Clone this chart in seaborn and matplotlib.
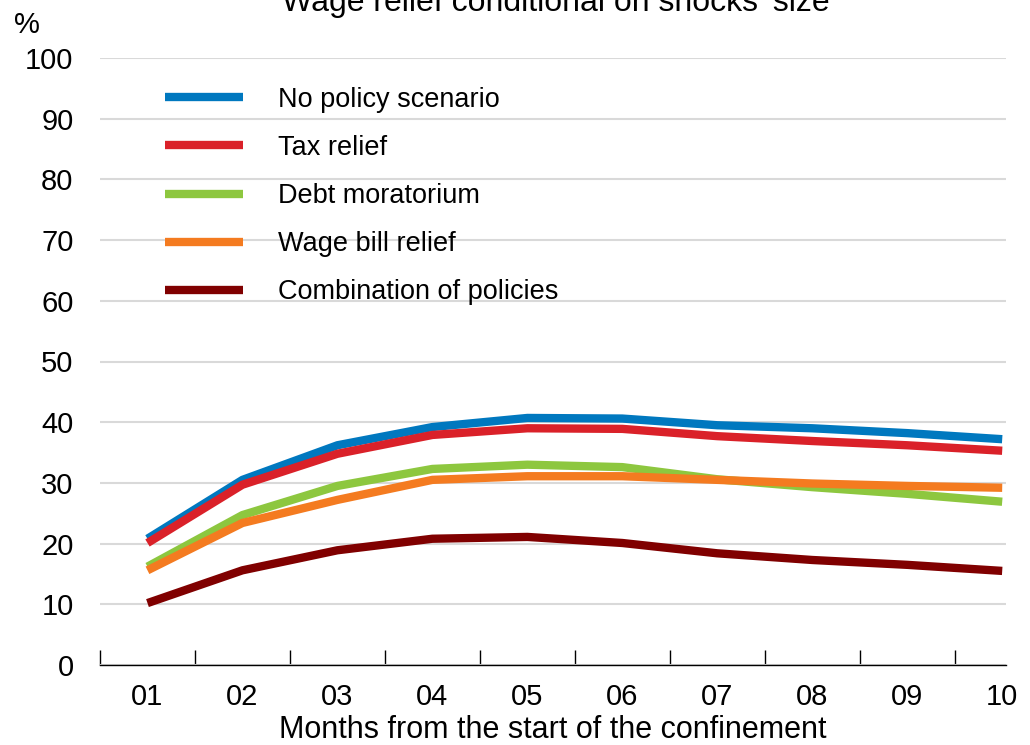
import pandas as pd
import seaborn as sns
import matplotlib.pyplot as plt
from matplotlib.ticker import FixedLocator

# data
months = ["01", "02", "03", "04", "05", "06", "07", "08", "09", "10"]
no_policy = [20.8, 30.5, 36.2, 39.2, 40.7, 40.6, 39.5, 39.0, 38.2, 37.2]
tax_relief = [20.1, 29.7, 34.8, 37.9, 39.0, 38.9, 37.7, 36.9, 36.2, 35.3]
debt_moratorium = [16.2, 24.7, 29.5, 32.3, 33.0, 32.6, 30.6, 29.3, 28.2, 26.9]
wage_bill_relief = [15.6, 23.4, 27.2, 30.5, 31.1, 31.1, 30.5, 29.9, 29.5, 29.2]
combination = [10.2, 15.6, 18.9, 20.8, 21.1, 20.1, 18.4, 17.3, 16.5, 15.5]

series_names = ["No policy scenario", "Tax relief", "Debt moratorium",
                "Wage bill relief", "Combination of policies"]
series_values = [no_policy, tax_relief, debt_moratorium, wage_bill_relief, combination]
colors = ["#0078BF", "#DA2129", "#8DC73F", "#F47B20", "#800000"]

df = pd.DataFrame({
    "Month": months * len(series_names),
    "Value": [v for vals in series_values for v in vals],
    "Series": [n for n in series_names for _ in months],
})

sns.set_theme(style="white")
plt.rcParams["font.family"] = ["Liberation Sans", "DejaVu Sans"]

fig = plt.figure(figsize=(10.30, 7.45), dpi=100)
ax = fig.add_axes([100 / 1030, 1 - 665 / 745, 906 / 1030, (665 - 58) / 745])

sns.lineplot(data=df, x="Month", y="Value", hue="Series", hue_order=series_names,
             palette=colors, linewidth=6, sort=False, ax=ax, solid_capstyle="butt")

ax.set_xlim(-0.5, 9.04)
ax.set_ylim(0, 100)
ax.set_yticks(range(0, 101, 10))
ax.yaxis.grid(True, color="#d9d9d9", linewidth=1.5)
ax.set_axisbelow(True)
for side in ["left", "right", "top"]:
    ax.spines[side].set_visible(False)
ax.spines["bottom"].set_color("black")
ax.spines["bottom"].set_linewidth(1.0)

ax.xaxis.set_minor_locator(FixedLocator([i - 0.5 for i in range(len(months))]))
ax.tick_params(axis="x", which="major", length=0, pad=13, labelsize=21, labelcolor="black")
ax.tick_params(axis="x", which="minor", direction="in", length=11, width=1.0, color="black", bottom=True)
ax.tick_params(axis="y", length=0, pad=19, labelsize=21, labelcolor="black")

ax.set_xlabel("Months from the start of the confinement", fontsize=22, labelpad=3, color="black")
ax.set_ylabel("")

leg = ax.legend(loc="upper left", bbox_to_anchor=(0.0445, 0.993), frameon=False,
                fontsize=19.5, handlelength=2.9, handletextpad=1.3, labelspacing=0.82)
for line in leg.get_lines():
    line.set_linewidth(6)
    line.set_solid_capstyle("butt")
for txt in leg.get_texts():
    txt.set_color("black")

fig.text(27 / 1030, 1 - 25 / 745, "%", fontsize=21, ha="center", va="center", color="black")
fig.text(556 / 1030, 1 - 3 / 745, "Wage relief conditional on shocks' size",
         fontsize=23, ha="center", va="center", color="black")

fig.savefig("out.png", dpi=100)
